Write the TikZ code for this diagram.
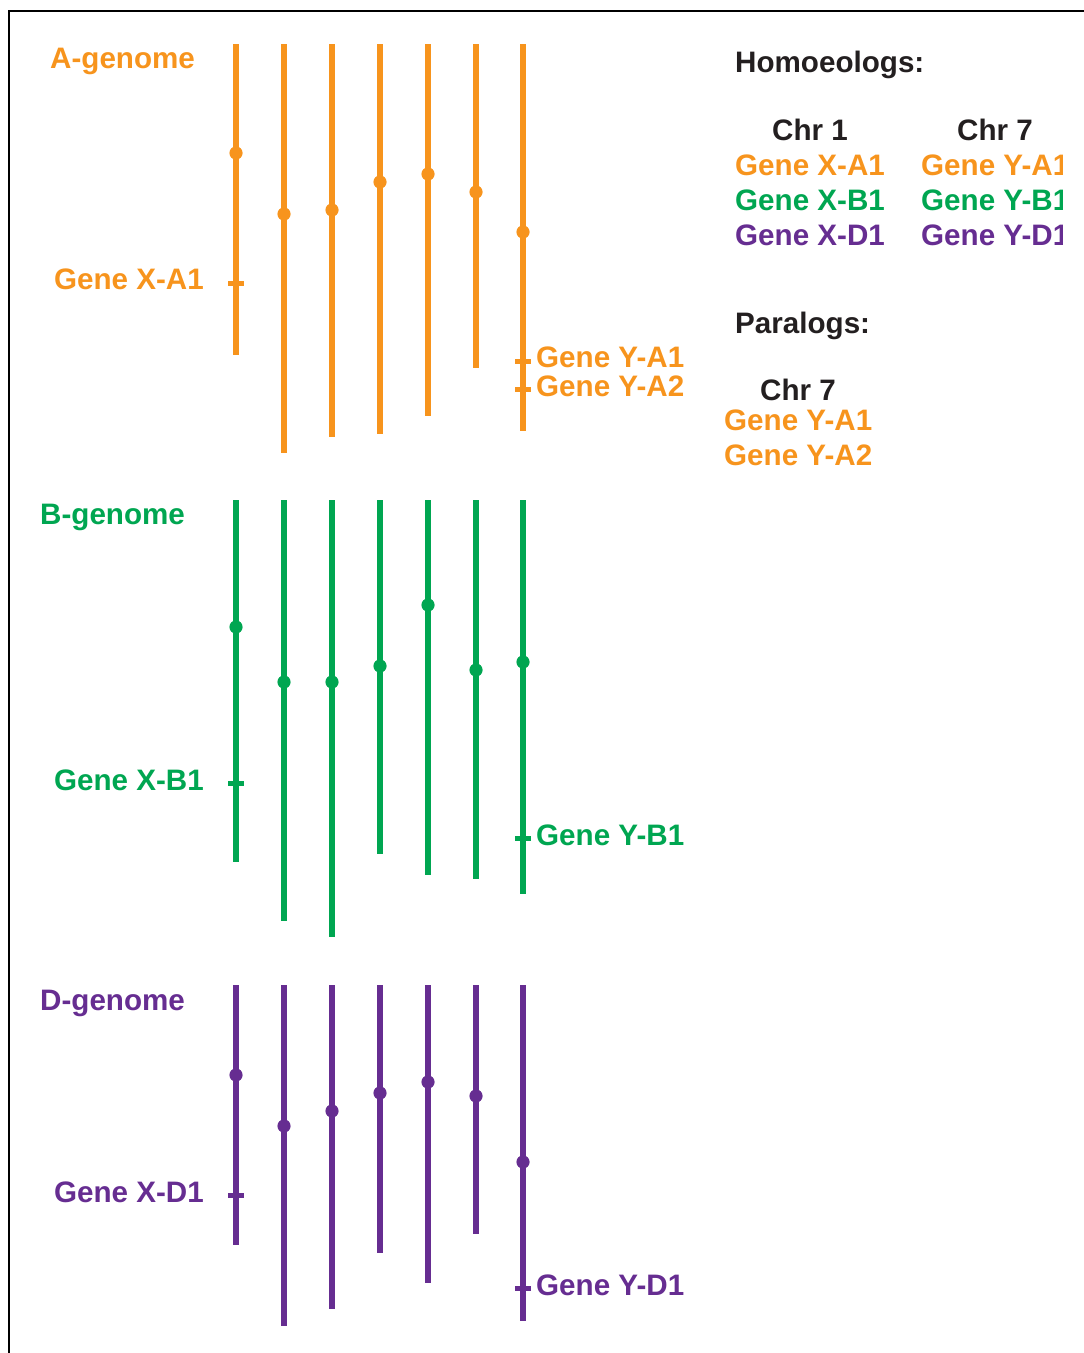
\documentclass[tikz,border=0pt]{standalone}
\usepackage{fontspec}
\setmainfont{Liberation Sans}
\definecolor{gorange}{HTML}{F7941D}
\definecolor{ggreen}{HTML}{00A651}
\definecolor{gpurple}{HTML}{662D91}
\definecolor{gblack}{HTML}{231F20}
\begin{document}
\begin{tikzpicture}[x=1pt,y=-1pt,
  lbl/.style={inner sep=0pt, font=\fontsize{29.6}{34}\selectfont\bfseries},
  lw/.style={lbl, anchor=base west},
  le/.style={lbl, anchor=base east},
  chromline/.style={line width=6pt},
  genemark/.style={line width=5pt},
  centro/.style={radius=6.6pt}]
\useasboundingbox (0,0) rectangle (1084,1353);
\draw[line width=1.3pt, black] (9,1353) -- (9,11) -- (1084,11);

% A-genome
\foreach \x/\b/\c in {236/355/153, 284/453/214, 332/437/210, 380/434/182, 428/416/174, 476/368/192, 523/431/232}{
  \draw[chromline, gorange] (\x,44) -- (\x,\b);
  \fill[gorange] (\x,\c) circle[centro];
}
\draw[genemark, gorange] (228,283) -- (244,283);
\draw[genemark, gorange] (515,361) -- (531,361);
\draw[genemark, gorange] (515,389) -- (531,389);

% B-genome
\foreach \x/\b/\c in {236/862/627, 284/921/682, 332/937/682, 380/854/666, 428/875/605, 476/879/670, 523/894/662}{
  \draw[chromline, ggreen] (\x,500) -- (\x,\b);
  \fill[ggreen] (\x,\c) circle[centro];
}
\draw[genemark, ggreen] (228,783) -- (244,783);
\draw[genemark, ggreen] (515,838) -- (531,838);

% D-genome
\foreach \x/\b/\c in {236/1245/1075, 284/1326/1126, 332/1309/1111, 380/1253/1093, 428/1283/1082, 476/1234/1096, 523/1321/1162}{
  \draw[chromline, gpurple] (\x,985) -- (\x,\b);
  \fill[gpurple] (\x,\c) circle[centro];
}
\draw[genemark, gpurple] (228,1195) -- (244,1195);
\draw[genemark, gpurple] (515,1288) -- (531,1288);

% genome labels
\node[lw, gorange] (agen) at (50,68) {A-genome};
\node[lw, ggreen] (bgen) at (40,524) {B-genome};
\node[lw, gpurple] (dgen) at (40,1010) {D-genome};

% gene labels on chromosomes
\node[le, gorange] (xa1) at (204,289) {Gene X-A1};
\node[le, ggreen] (xb1) at (204,790) {Gene X-B1};
\node[le, gpurple] (xd1) at (204,1202) {Gene X-D1};
\node[lw, gorange] (ya1) at (536,367) {Gene Y-A1};
\node[lw, gorange] (ya2) at (536,396) {Gene Y-A2};
\node[lw, ggreen] (yb1) at (536,845) {Gene Y-B1};
\node[lw, gpurple] (yd1) at (536,1295) {Gene Y-D1};

% legend
\node[lw, gblack] (homo) at (735,72) {Homoeologs:};
\node[lw, gblack] (chr1) at (772,140) {Chr 1};
\node[lw, gorange] (lxa1) at (735,175) {Gene X-A1};
\node[lw, ggreen] (lxb1) at (735,210) {Gene X-B1};
\node[lw, gpurple] (lxd1) at (735,245) {Gene X-D1};
\begin{scope}
  \clip (0,0) rectangle (1062,1353);
  \node[lw, gblack] (chr7) at (957,140) {Chr 7};
  \node[lw, gorange] (lya1) at (921,175) {Gene Y-A1};
  \node[lw, ggreen] (lyb1) at (921,210) {Gene Y-B1};
  \node[lw, gpurple] (lyd1) at (921,245) {Gene Y-D1};
\end{scope}
\node[lw, gblack] (para) at (735,333) {Paralogs:};
\node[lw, gblack] (pchr7) at (760,400) {Chr 7};
\node[lw, gorange] (pya1) at (724,430) {Gene Y-A1};
\node[lw, gorange] (pya2) at (724,465) {Gene Y-A2};
\end{tikzpicture}
\end{document}
